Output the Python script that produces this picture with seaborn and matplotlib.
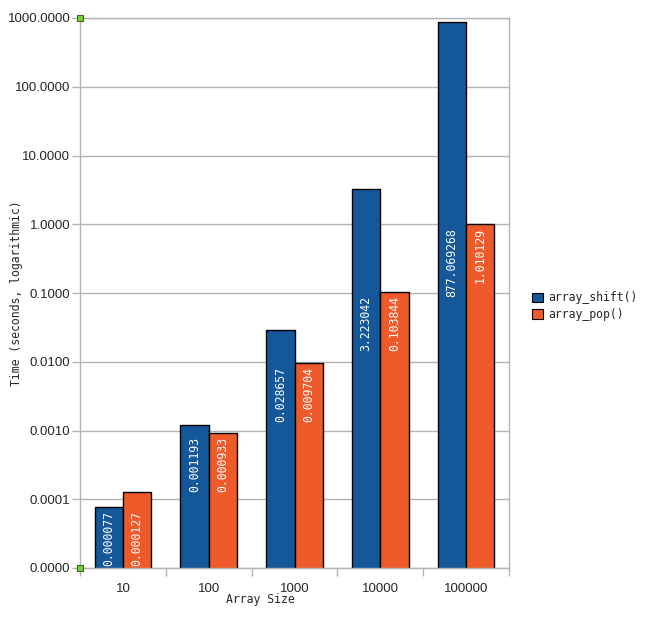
import pandas as pd
import numpy as np
import matplotlib
matplotlib.use("Agg")
import matplotlib.pyplot as plt
import seaborn as sns
from matplotlib.ticker import FixedLocator, FuncFormatter, NullFormatter

### Dados
tamanhos = ["10", "100", "1000", "10000", "100000"]
array_shift = [0.000077, 0.001193, 0.028657, 3.223042, 877.069268]
array_pop = [0.000127, 0.000933, 0.009704, 0.103844, 1.010129]
series = ["array_shift()", "array_pop()"]
cores = ["#15589a", "#ee5a29"]
y_ticks = [1e-5, 1e-4, 1e-3, 1e-2, 1e-1, 1, 10, 100, 1000]

df = pd.DataFrame({"Array Size": tamanhos * 2,
                   "Tempo": array_shift + array_pop,
                   "Serie": [series[0]] * 5 + [series[1]] * 5})

### Figura
sns.set_style("white")
fig = plt.figure(figsize = (6.47, 6.19), dpi = 100)
ax = fig.add_axes([80/647, 1 - 568/619, 429/647, 550/619])
sns.barplot(data = df, x = "Array Size", y = "Tempo", hue = "Serie", order = tamanhos,
            hue_order = series, palette = cores, width = 0.66, gap = 0, saturation = 1,
            edgecolor = "black", linewidth = 1, ax = ax, legend = True, errorbar = None)
ax.set_yscale("log")
ax.set_ylim(1e-5, 1000)
ax.set_xlim(-0.5, 4.5)

# grade e eixos
cinza = "#b3b3b3"
ax.yaxis.set_major_locator(FixedLocator(y_ticks))
ax.yaxis.set_minor_locator(FixedLocator([]))
ax.yaxis.set_major_formatter(FuncFormatter(lambda v, p: f"{v:.4f}"))
ax.grid(True, axis = "y", color = cinza, linewidth = 1)
ax.set_axisbelow(True)
ax.tick_params(axis = "y", which = "major", length = 6, color = cinza, width = 1,
               labelsize = 9.5, pad = 1, direction = "out", left = True)
ax.xaxis.set_minor_locator(FixedLocator(np.arange(-0.5, 5.0, 1.0)))
ax.xaxis.set_minor_formatter(NullFormatter())
ax.tick_params(axis = "x", which = "major", length = 0, labelsize = 9.5, pad = 11)
ax.tick_params(axis = "x", which = "minor", length = 6, color = cinza, width = 1,
               direction = "out", bottom = True)
for lab in ax.get_xticklabels() + ax.get_yticklabels():
    lab.set_family("Liberation Sans")
for sp in ax.spines.values():
    sp.set_color(cinza)
    sp.set_linewidth(1)

# rótulos dentro das barras (alinhados ao topo da menor barra do grupo)
topo = [min(a, b) for a, b in zip(array_shift, array_pop)]
for cont, valores in zip(ax.containers, [array_shift, array_pop]):
    for i, (barra, v) in enumerate(zip(cont, valores)):
        xc = barra.get_x() + barra.get_width() / 2
        ax.annotate(f"{v:.6f}", (xc, topo[i]), xytext = (0, -3), textcoords = "offset points",
                    rotation = 90, ha = "center", va = "top", color = "white",
                    family = "DejaVu Sans Mono", fontsize = 8.3)

# marcadores verdes nos cantos
ax.plot([0, 0], [0, 1], "s", transform = ax.transAxes, clip_on = False, ms = 5,
        mfc = "#77d13a", mec = "#3a6a1a", mew = 0.8, zorder = 5)

ax.set_xlabel("Array Size", family = "DejaVu Sans Mono", fontsize = 8.3)
ax.xaxis.set_label_coords((260 - 80) / 429, -(593 - 568) / 550)
ax.set_ylabel("Time (seconds, logarithmic)", family = "DejaVu Sans Mono", fontsize = 8.3)
ax.yaxis.set_label_coords((23 - 80) / 429, 0.5)

leg = ax.legend(loc = "center left", bbox_to_anchor = (522/647, 1 - 306/619),
                bbox_transform = fig.transFigure, frameon = False,
                prop = {"family": "DejaVu Sans Mono", "size": 8.3},
                handlelength = 0.9, handleheight = 0.9, handletextpad = 0.5, labelspacing = 0.3)
for h in leg.legend_handles:
    h.set_edgecolor("black")
    h.set_linewidth(0.8)

plt.savefig("out.png", dpi = 100)
